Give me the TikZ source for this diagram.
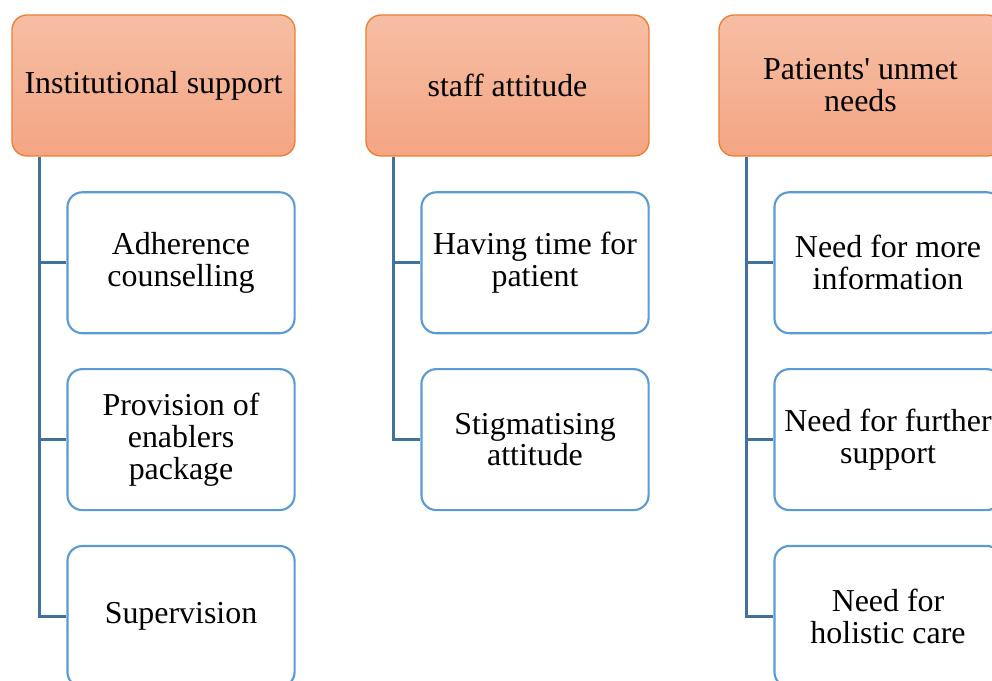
\documentclass[tikz,border=0pt]{standalone}
\usepackage{fontspec}
\setmainfont{Liberation Serif}
\usetikzlibrary{positioning}
\definecolor{headtop}{RGB}{246,190,164}
\definecolor{headbot}{RGB}{244,165,131}
\definecolor{headline}{RGB}{237,125,49}
\definecolor{itemline}{RGB}{91,155,213}
\definecolor{linkline}{RGB}{65,113,156}
\tikzset{
  head/.style={
    draw=headline,
    line width=0.5pt,
    rectangle,
    rounded corners=5.6pt,
    top color=headtop,
    bottom color=headbot,
    minimum width=106.4pt,
    minimum height=53pt,
    inner sep=0pt,
    align=center,
    font=\fontsize{12}{12}\selectfont
  },
  item/.style={
    draw=itemline,
    line width=0.8pt,
    rectangle,
    rounded corners=5.6pt,
    fill=white,
    minimum width=85.4pt,
    minimum height=53pt,
    inner sep=0pt,
    align=center,
    font=\fontsize{12}{12}\selectfont
  },
  link/.style={
    draw=linkline,
    line width=1pt
  }
}
\begin{document}
\begin{tikzpicture}[x=0.376pt, y=-0.376pt]
  \useasboundingbox (0,0) rectangle (992,681);

  \node[head] (inst) at (153.5,85.5) {Institutional support};
  \node[head] (staff) at (507.5,85.5) {staff attitude};
  \node[head] (needs) at (860.5,85.5) {Patients\textquotesingle{} unmet\\needs};

  \node[item, below=13pt of inst.south east, anchor=north east] (adh) {Adherence\\counselling};
  \node[item, below=12.7pt of adh] (prov) {Provision of\\enablers\\package};
  \node[item, below=12.7pt of prov] (sup) {Supervision};

  \node[item, below=13pt of staff.south east, anchor=north east] (time) {Having time for\\patient};
  \node[item, below=12.7pt of time] (stig) {Stigmatising\\attitude};

  \node[item, below=13pt of needs.south east, anchor=north east] (info) {Need for more\\information};
  \node[item, below=12.7pt of info] (furth) {Need for further\\support};
  \node[item, below=12.7pt of furth] (hol) {Need for\\holistic care};

  % Verbindungslinien
  \coordinate (t1) at ([xshift=10.5pt]inst.south west);
  \coordinate (t2) at ([xshift=10.5pt]staff.south west);
  \coordinate (t3) at ([xshift=10.5pt]needs.south west);
  \draw[link] (t1) |- (adh.west);
  \draw[link] (t1) |- (prov.west);
  \draw[link] (t1) |- (sup.west);
  \draw[link] (t2) |- (time.west);
  \draw[link] (t2) |- (stig.west);
  \draw[link] (t3) |- (info.west);
  \draw[link] (t3) |- (furth.west);
  \draw[link] (t3) |- (hol.west);
\end{tikzpicture}
\end{document}
